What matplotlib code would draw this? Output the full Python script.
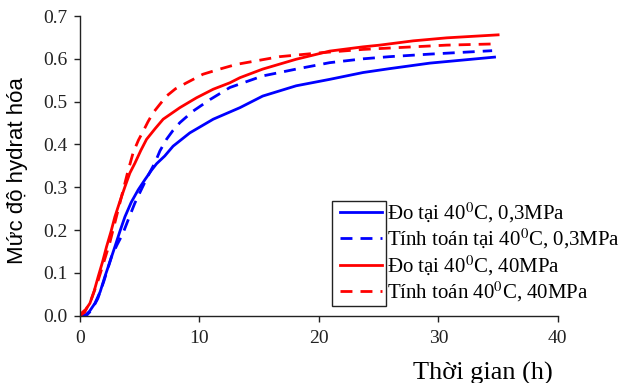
import matplotlib
matplotlib.use("Agg")
import matplotlib.pyplot as plt
from matplotlib.patches import Rectangle

plt.rcParams['font.family'] = ['Liberation Serif', 'DejaVu Serif']
plt.rcParams['mathtext.fontset'] = 'stix'

# data (time in h, degree of hydration)
t_blue_meas = [0, 0.42, 0.8, 1.26, 1.7, 2.09, 2.5, 2.93, 3.35, 3.77, 4.3, 4.88, 5.45, 6.0, 6.42, 7.1, 7.8,
               9.2, 11.16, 13.4, 15.3, 18.1, 20.9, 23.7, 25.9, 29.3, 34.7]
a_blue_meas = [0, 0.0, 0.01, 0.029, 0.056, 0.091, 0.125, 0.161, 0.197, 0.231, 0.265, 0.294, 0.318, 0.340, 0.355, 0.373,
               0.396, 0.427, 0.459, 0.486, 0.513, 0.537, 0.552, 0.568, 0.577, 0.590, 0.604]

t_blue_calc = [0, 0.6, 0.98, 1.5, 2.0, 2.65, 3.1, 3.6, 4.1, 4.6, 5.2, 5.7, 6.28, 6.7, 7.25, 7.8, 8.37, 9.48,
               10.9, 12.55, 15.3, 18.1, 20.9, 23.7, 25.9, 29.3, 34.5]
a_blue_calc = [0, 0.002, 0.013, 0.04, 0.08, 0.138, 0.165, 0.192, 0.228, 0.263, 0.298, 0.327, 0.357, 0.385, 0.412, 0.433,
               0.451, 0.478, 0.505, 0.533, 0.560, 0.576, 0.591, 0.600, 0.605, 0.611, 0.619]

t_red_meas = [0, 0.14, 0.5, 0.84, 1.2, 1.53, 1.9, 2.23, 2.6, 2.93, 3.35, 3.77, 4.18, 4.6, 5.1, 5.58, 6.3, 6.97,
              8.37, 9.76, 11.16, 12.55, 13.4, 15.3, 18.1, 20.9, 23.7, 25.1, 27.9, 30.7, 35.0]
a_red_meas = [0, 0.006, 0.015, 0.029, 0.058, 0.091, 0.126, 0.161, 0.196, 0.231, 0.267, 0.301, 0.333, 0.356, 0.386, 0.412,
              0.437, 0.459, 0.486, 0.509, 0.529, 0.544, 0.556, 0.576, 0.599, 0.618, 0.628, 0.632, 0.642, 0.649, 0.656]

t_red_calc = [0, 0.4, 0.98, 1.5, 2.0, 2.5, 3.0, 3.5, 4.0, 4.46, 4.9, 5.3, 5.7, 6.13, 6.7, 7.25, 8.0, 8.93,
              10.3, 11.7, 13.1, 16.7, 20.1, 23.7, 26.5, 30.7, 35.0]
a_red_calc = [0, 0.008, 0.04, 0.08, 0.125, 0.17, 0.225, 0.28, 0.335, 0.381, 0.41, 0.431, 0.453, 0.474, 0.494, 0.513, 0.53, 0.544,
              0.564, 0.576, 0.587, 0.605, 0.614, 0.622, 0.626, 0.632, 0.635]

labels = ['Đo tại 40$^{0}$C, 0,3MPa',
          'Tính toán tại 40$^{0}$C, 0,3MPa',
          'Đo tại 40$^{0}$C, 40MPa',
          'Tính toán 40$^{0}$C, 40MPa']

fig = plt.figure(figsize=(6.24, 3.83), dpi=100)
ax = fig.add_axes([0.128, 0.1757, 0.766, 0.7825])

dash = (0, (4.3, 2.9))
ax.plot(t_blue_meas, a_blue_meas, color='#0000ff', lw=2, label=labels[0])
ax.plot(t_blue_calc, a_blue_calc, color='#0000ff', lw=2, ls=dash, label=labels[1])
ax.plot(t_red_meas, a_red_meas, color='#ff0000', lw=2, label=labels[2])
ax.plot(t_red_calc, a_red_calc, color='#ff0000', lw=2, ls=dash, label=labels[3])

ax.set_xlim(0, 40)
ax.set_ylim(0, 0.7)
ax.set_xticks([0, 10, 20, 30, 40])
ax.set_yticks([0, 0.1, 0.2, 0.3, 0.4, 0.5, 0.6, 0.7])
ax.set_yticklabels(['0.0', '0.1', '0.2', '0.3', '0.4', '0.5', '0.6', '0.7'])
ax.tick_params(direction='out', length=4, width=1, labelsize=14, colors='#222222')
ax.tick_params(axis='y', pad=5)
ax.tick_params(axis='x', pad=6)
ax.spines['top'].set_visible(False)
ax.spines['right'].set_visible(False)
for s in ['left', 'bottom']:
    ax.spines[s].set_color('#222222')
    ax.spines[s].set_linewidth(1)

ax.set_ylabel('Mức độ hydrat hóa', family=['Liberation Sans', 'DejaVu Sans'], fontsize=16)
ax.yaxis.set_label_coords(-0.108, 0.483)
fig.text(483 / 624, 1 - 373 / 383, 'Thời gian (h)', fontsize=19, ha='center', va='center')

leg = ax.legend(loc='upper left', bbox_to_anchor=((340 - 80) / 478, (316 - 201) / 299.7),
                frameon=False, fontsize=15, handlelength=2.0, handletextpad=0.25,
                labelspacing=0.1, borderpad=0.0, borderaxespad=0)
fig.patches.append(Rectangle((332 / 624, 1 - 306 / 383), (386 - 332) / 624, (306 - 201) / 383,
                             transform=fig.transFigure, fill=False, ec='#222222', lw=1))

fig.savefig('out.png', dpi=100)
